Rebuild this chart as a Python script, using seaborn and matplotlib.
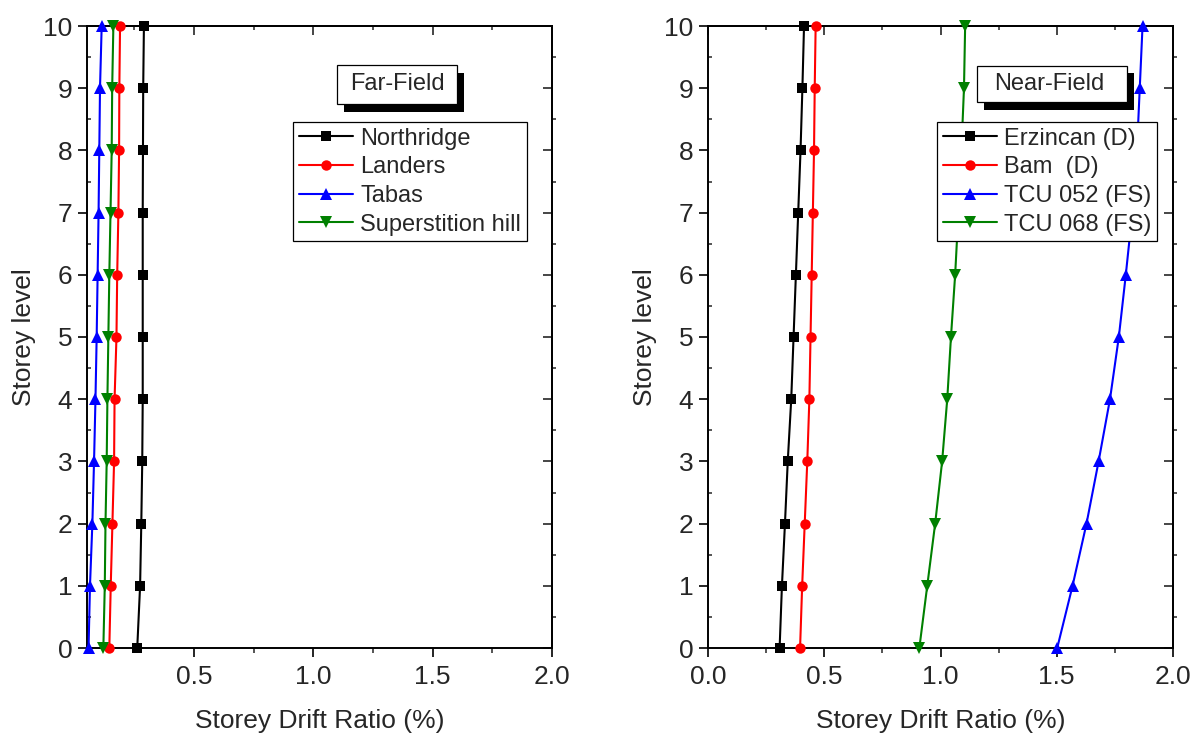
import numpy as np
import pandas as pd
import matplotlib
matplotlib.use("Agg")
import matplotlib.pyplot as plt
from matplotlib.patches import Rectangle
from matplotlib.ticker import MultipleLocator, FixedLocator, FormatStrFormatter, NullFormatter
import seaborn as sns

# Storey levels (0 = base, 10 = roof)
levels = list(range(11))

# Far-field records: storey drift ratio (%)
far_names = ["Northridge", "Landers", "Tabas", "Superstition hill"]
northridge = [0.262, 0.274, 0.279, 0.283, 0.285, 0.285, 0.285, 0.285, 0.286, 0.287, 0.290]
landers = [0.145, 0.151, 0.158, 0.165, 0.167, 0.175, 0.178, 0.183, 0.186, 0.187, 0.190]
tabas = [0.058, 0.064, 0.074, 0.081, 0.087, 0.092, 0.096, 0.100, 0.103, 0.106, 0.113]
superstition = [0.120, 0.126, 0.129, 0.134, 0.137, 0.141, 0.145, 0.150, 0.155, 0.157, 0.162]

# Near-field records: storey drift ratio (%)
near_names = ["Erzincan (D)", "Bam  (D)", "TCU 052 (FS)", "TCU 068 (FS)"]
erzincan = [0.308, 0.318, 0.331, 0.343, 0.358, 0.368, 0.378, 0.388, 0.398, 0.406, 0.413]
bam = [0.396, 0.405, 0.416, 0.427, 0.436, 0.441, 0.446, 0.451, 0.456, 0.459, 0.463]
tcu052 = [1.502, 1.568, 1.628, 1.680, 1.729, 1.767, 1.797, 1.825, 1.845, 1.857, 1.869]
tcu068 = [0.909, 0.943, 0.977, 1.007, 1.029, 1.045, 1.063, 1.077, 1.090, 1.101, 1.106]

colors = ["#000000", "#ff0000", "#0000ff", "#008000"]
markers = ["s", "o", "^", "v"]
marker_sizes = [6.5, 7.5, 9.0, 9.0]

sns.set_style("ticks")
plt.rcParams["font.family"] = ["Liberation Sans", "DejaVu Sans"]

W, H = 1197, 738
fig = plt.figure(figsize=(W / 100, H / 100), dpi=100)


def fig_box(x0, y0, x1, y1):
    """Pixel box (top-left origin) -> figure-fraction rect."""
    return [x0 / W, 1 - y1 / H, (x1 - x0) / W, (y1 - y0) / H]


ax_far = fig.add_axes(fig_box(87, 26, 552, 648))
ax_near = fig.add_axes(fig_box(708, 26, 1173, 648))


def long_form(names, series):
    rows = []
    for name, vals in zip(names, series):
        for lv, v in zip(levels, vals):
            rows.append({"record": name, "drift": v, "level": lv})
    return pd.DataFrame(rows)


def add_title_box(text, box, text_x):
    x0, y0, x1, y1 = box
    sx, sy = 6.5, 7.5
    shadow = fig_box(x0 + sx, y0 + sy, x1 + sx, y1 + sy)
    face = fig_box(x0, y0, x1, y1)
    fig.patches.append(Rectangle(shadow[:2], shadow[2], shadow[3],
                                 transform=fig.transFigure, facecolor="black",
                                 edgecolor="none", zorder=20))
    fig.patches.append(Rectangle(face[:2], face[2], face[3],
                                 transform=fig.transFigure, facecolor="white",
                                 edgecolor="black", linewidth=0.9, zorder=21))
    fig.text(text_x / W, 1 - (y0 + y1) / 2 / H, text, fontsize=17,
             ha="center", va="center", zorder=22)


def draw_panel(ax, names, series, xmin, major_x, legend_xy):
    df = long_form(names, series)
    sns.lineplot(data=df, x="drift", y="level", hue="record", style="record",
                 hue_order=names, style_order=names,
                 palette=colors, markers=markers, dashes=False,
                 sort=False, orient="y", estimator=None, legend=False,
                 linewidth=1.5, markeredgewidth=0, clip_on=False, zorder=3, ax=ax)
    for line, ms in zip(ax.lines, marker_sizes):
        line.set_markersize(ms)

    ax.set_xlim(xmin, 2.0)
    ax.set_ylim(0, 10)
    ax.xaxis.set_major_locator(FixedLocator(major_x))
    ax.xaxis.set_minor_locator(MultipleLocator(0.25))
    ax.xaxis.set_major_formatter(FormatStrFormatter("%.1f"))
    ax.yaxis.set_major_locator(MultipleLocator(1))
    ax.yaxis.set_minor_locator(MultipleLocator(0.5))
    ax.tick_params(which="major", direction="out", length=6.5, width=1.2,
                   labelsize=19, pad=4, color="black")
    ax.tick_params(axis="x", which="major", pad=6)
    ax.tick_params(axis="x", which="minor", direction="out", length=3.5, width=1.1)
    ax.tick_params(axis="y", which="minor", direction="in", length=3, width=1.1)
    for sp in ax.spines.values():
        sp.set_visible(True)
        sp.set_linewidth(1.4)
        sp.set_color("black")

    # mirrored ticks on top and right
    top = ax.secondary_xaxis("top")
    top.xaxis.set_major_locator(FixedLocator(major_x))
    top.xaxis.set_minor_locator(MultipleLocator(0.25))
    top.xaxis.set_major_formatter(NullFormatter())
    top.tick_params(which="major", direction="in", length=6.5, width=1.2)
    top.tick_params(which="minor", direction="in", length=3, width=1.1)
    top.spines["top"].set_linewidth(1.4)
    right = ax.secondary_yaxis("right")
    right.yaxis.set_major_locator(MultipleLocator(1))
    right.yaxis.set_minor_locator(MultipleLocator(0.5))
    right.yaxis.set_major_formatter(NullFormatter())
    right.tick_params(which="major", direction="in", length=6.5, width=1.2)
    right.tick_params(which="minor", direction="out", length=3, width=1.1)
    right.spines["right"].set_linewidth(1.4)

    ax.set_xlabel("Storey Drift Ratio (%)", fontsize=19, labelpad=14)
    ax.set_ylabel("Storey level", fontsize=19, labelpad=5)

    leg = ax.legend(handles=list(ax.lines), labels=names, loc="upper left",
                    bbox_to_anchor=(legend_xy[0] / W, 1 - legend_xy[1] / H),
                    bbox_transform=fig.transFigure, borderaxespad=0,
                    fontsize=17, frameon=True, fancybox=False, framealpha=1,
                    edgecolor="black", handlelength=2.3, handletextpad=0.3,
                    borderpad=0.24, labelspacing=0.28, numpoints=1)
    leg.get_frame().set_linewidth(0.9)
    leg.set_zorder(10)


draw_panel(ax_far, far_names, [northridge, landers, tabas, superstition],
           0.0515, [0.5, 1.0, 1.5, 2.0], (293, 122))
draw_panel(ax_near, near_names, [erzincan, bam, tcu052, tcu068],
           0.0, [0.0, 0.5, 1.0, 1.5, 2.0], (937, 122))
add_title_box("Far-Field", (337, 65, 457, 104), 397)
add_title_box("Near-Field", (977, 66, 1127, 102), 1049)

fig.savefig("out.png", dpi=100)
